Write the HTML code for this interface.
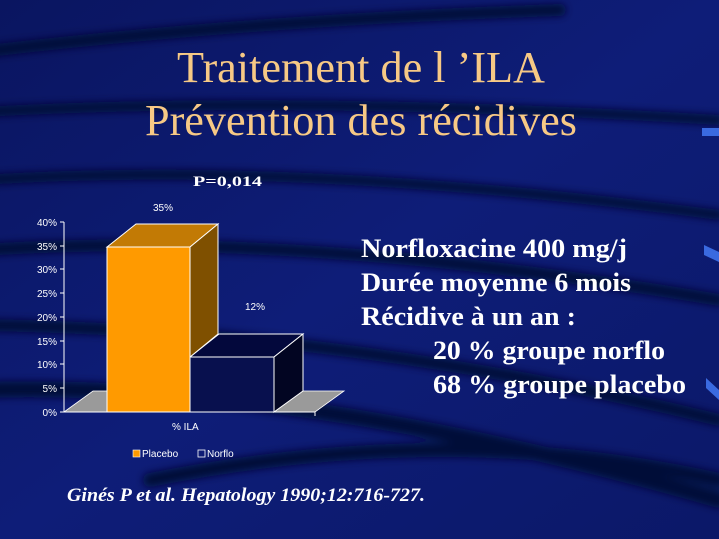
<!DOCTYPE html>
<html><head><meta charset="utf-8"><style>
html,body{margin:0;padding:0;width:719px;height:539px;overflow:hidden;background:#0c1a6c}
svg{display:block}
</style></head><body>
<svg width="719" height="539" viewBox="0 0 719 539" xmlns="http://www.w3.org/2000/svg">
<defs>
<linearGradient id="bg" x1="0" y1="0" x2="1" y2="1">
<stop offset="0" stop-color="#0a1560"/><stop offset="0.5" stop-color="#0e1d78"/><stop offset="1" stop-color="#0b1868"/>
</linearGradient>
<filter id="bl"><feGaussianBlur stdDeviation="4"/></filter>
</defs>
<rect width="719" height="539" fill="url(#bg)"/>
<g filter="url(#bl)" fill="none" stroke="#060c38" stroke-linecap="round">
<path d="M-20 52 Q250 20 560 10" stroke-width="12"/>
<path d="M-20 112 Q300 95 719 120" stroke-width="10"/>
<path d="M-20 180 Q300 160 719 215" stroke-width="10"/>
<path d="M-20 250 Q300 230 719 300" stroke-width="12"/>
<path d="M-20 325 Q350 330 719 420" stroke-width="12"/>
<path d="M-20 390 Q300 380 719 500" stroke-width="16"/>
<path d="M150 480 Q450 420 719 480" stroke-width="14"/>
</g>
<rect x="702" y="128" width="17" height="8" fill="#3a6ae0"/>
<path d="M704 245 L719 252 L719 262 L704 255Z" fill="#3a6ae0"/>
<path d="M706 378 L719 390 L719 400 L706 388Z" fill="#3a6ae0"/>

<g font-family="Liberation Serif, serif" fill="#f7c985" font-size="44">
<text x="177" y="82" textLength="368" lengthAdjust="spacingAndGlyphs">Traitement de l ’ILA</text>
<text x="145" y="135" textLength="432" lengthAdjust="spacingAndGlyphs">Prévention des récidives</text>
</g>

<text x="193" y="186" font-family="Liberation Serif, serif" font-weight="bold" font-size="15" fill="#fff" textLength="69" lengthAdjust="spacingAndGlyphs">P=0,014</text>

<polygon points="64,412 93,391 344,391 315,412" fill="#9a9a9a" stroke="#fff" stroke-width="0.8"/>
<g stroke="#fff" stroke-width="1">
<line x1="64" y1="222" x2="64" y2="412"/>
<line x1="64" y1="412" x2="315" y2="412"/>
<line x1="315" y1="412" x2="315" y2="416"/>
<line x1="60" y1="222" x2="64" y2="222"/><line x1="60" y1="246" x2="64" y2="246"/>
<line x1="60" y1="269" x2="64" y2="269"/><line x1="60" y1="293" x2="64" y2="293"/>
<line x1="60" y1="317" x2="64" y2="317"/><line x1="60" y1="341" x2="64" y2="341"/>
<line x1="60" y1="364" x2="64" y2="364"/><line x1="60" y1="388" x2="64" y2="388"/>
<line x1="60" y1="412" x2="64" y2="412"/>
</g>
<g font-family="Liberation Sans, sans-serif" font-size="10" fill="#fff" text-anchor="end">
<text x="57" y="226">40%</text><text x="57" y="250">35%</text><text x="57" y="273">30%</text>
<text x="57" y="297">25%</text><text x="57" y="321">20%</text><text x="57" y="345">15%</text>
<text x="57" y="368">10%</text><text x="57" y="392">5%</text><text x="57" y="416">0%</text>
</g>
<g stroke="#fff" stroke-width="1">
<polygon points="190,357 219,334 303,334 274,357" fill="#03083c"/>
<polygon points="274,357 303,334 303,391 274,412" fill="#020522"/>
<rect x="190" y="357" width="84" height="55" fill="#08104e"/>
<polygon points="107,247 136,224 218,224 190,247" fill="#c27a05"/>
<polygon points="190,247 218,224 218,334 190,357" fill="#7f5000"/>
<rect x="107" y="247" width="83" height="165" fill="#ff9a00"/>
</g>
<g font-family="Liberation Sans, sans-serif" font-size="10" fill="#fff">
<text x="153" y="211">35%</text>
<text x="245" y="310">12%</text>
<text x="172" y="430">% ILA</text>
<rect x="133" y="450" width="7" height="7" fill="#ff9a00" stroke="#fff" stroke-width="0.6"/>
<text x="142" y="457">Placebo</text>
<rect x="198" y="450" width="7" height="7" fill="none" stroke="#fff" stroke-width="0.8"/>
<text x="207" y="457">Norflo</text>
</g>

<g font-family="Liberation Serif, serif" font-weight="bold" font-size="26" fill="#fff" lengthAdjust="spacingAndGlyphs">
<text x="361" y="257" textLength="266" lengthAdjust="spacingAndGlyphs">Norfloxacine 400 mg/j</text>
<text x="361" y="291" textLength="270" lengthAdjust="spacingAndGlyphs">Durée moyenne 6 mois</text>
<text x="361" y="325" textLength="215" lengthAdjust="spacingAndGlyphs">Récidive à un an :</text>
<text x="433" y="359" textLength="232" lengthAdjust="spacingAndGlyphs">20 % groupe norflo</text>
<text x="433" y="393" textLength="253" lengthAdjust="spacingAndGlyphs">68 % groupe placebo</text>
</g>
<text x="67" y="501" font-family="Liberation Serif, serif" font-weight="bold" font-style="italic" font-size="19" fill="#fff" textLength="358" lengthAdjust="spacingAndGlyphs">Ginés P et al. Hepatology 1990;12:716-727.</text>
</svg>
</body></html>
